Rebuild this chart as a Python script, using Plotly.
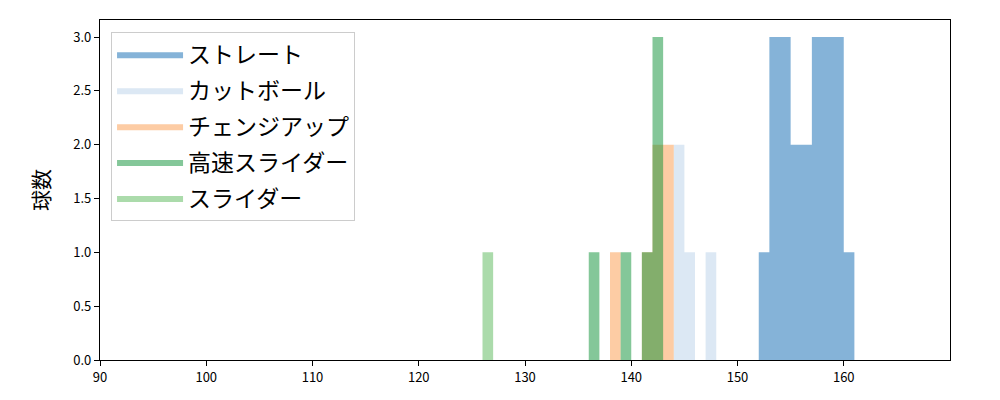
import plotly.graph_objects as go

# pitch type names (legend order)
pitch_names = ["ストレート", "カットボール", "チェンジアップ", "高速スライダー", "スライダー"]
colors = ["rgba(11,103,177,0.5)", "rgba(185,209,233,0.5)", "rgba(251,153,73,0.5)",
          "rgba(9,143,51,0.5)", "rgba(87,183,87,0.5)"]

# histogram bins (left edge, km/h) and counts per pitch type, bin width 1
straight_bins = [152, 153, 154, 155, 156, 157, 158, 159, 160]
straight_counts = [1, 3, 3, 2, 2, 3, 3, 3, 1]
cut_bins = [144, 145, 147]
cut_counts = [2, 1, 1]
change_bins = [138, 141, 142, 143]
change_counts = [1, 1, 2, 2]
fast_slider_bins = [136, 139, 141, 142]
fast_slider_counts = [1, 1, 1, 3]
slider_bins = [126]
slider_counts = [1]

bin_width = 1.0
series = [
    (straight_bins, straight_counts),
    (cut_bins, cut_counts),
    (change_bins, change_counts),
    (fast_slider_bins, fast_slider_counts),
    (slider_bins, slider_counts),
]

x_ticks = [90, 100, 110, 120, 130, 140, 150, 160]
y_ticks = [0.0, 0.5, 1.0, 1.5, 2.0, 2.5, 3.0]


def step_outline(bins, counts, w):
    """Histogram outline (x, y) of a step-filled area; gaps drop to zero."""
    xs, ys = [], []
    for i, (b, c) in enumerate(zip(bins, counts)):
        if i == 0 or bins[i - 1] + w != b:
            xs.append(b); ys.append(0)
        xs.append(b); ys.append(c)
        xs.append(b + w); ys.append(c)
        if i == len(bins) - 1 or bins[i + 1] != b + w:
            xs.append(b + w); ys.append(0)
    return xs, ys


fig = go.Figure()
for name, color, (bins, counts) in zip(pitch_names, colors, series):
    xs, ys = step_outline(bins, counts, bin_width)
    fig.add_trace(go.Scatter(
        x=xs, y=ys, mode="lines", line=dict(width=0, shape="linear"),
        fill="toself", fillcolor=color, name=name, legendgroup=name,
    ))

font_family = "Noto Sans CJK JP, DejaVu Sans, sans-serif"
fig.update_layout(
    width=984, height=384,
    margin=dict(l=92, r=42, t=12, b=32),
    plot_bgcolor="white", paper_bgcolor="white",
    font=dict(family=font_family, size=13, color="black"),
    legend=dict(
        x=0.013, y=0.965, xanchor="left", yanchor="top",
        bgcolor="rgba(255,255,255,0.8)", bordercolor="#cccccc", borderwidth=1,
        font=dict(size=23), tracegroupgap=3, itemwidth=66,
    ),
    xaxis=dict(
        range=[90, 170], tickvals=x_ticks, ticktext=[str(v) for v in x_ticks],
        showline=True, linecolor="black", linewidth=1.3, mirror=True, automargin=False,
        ticks="outside", ticklen=5, tickcolor="black", showgrid=False, zeroline=False,
    ),
    yaxis=dict(
        range=[0, 3.158], tickvals=y_ticks, ticktext=[f"{v:.1f}" for v in y_ticks],
        showline=True, linecolor="black", linewidth=1.3, mirror=True, automargin=False,
        ticks="outside", ticklen=5, tickcolor="black", showgrid=False, zeroline=False,
        title=dict(text="球数", font=dict(size=21), standoff=17),
    ),
)

fig.write_html("out.html")
